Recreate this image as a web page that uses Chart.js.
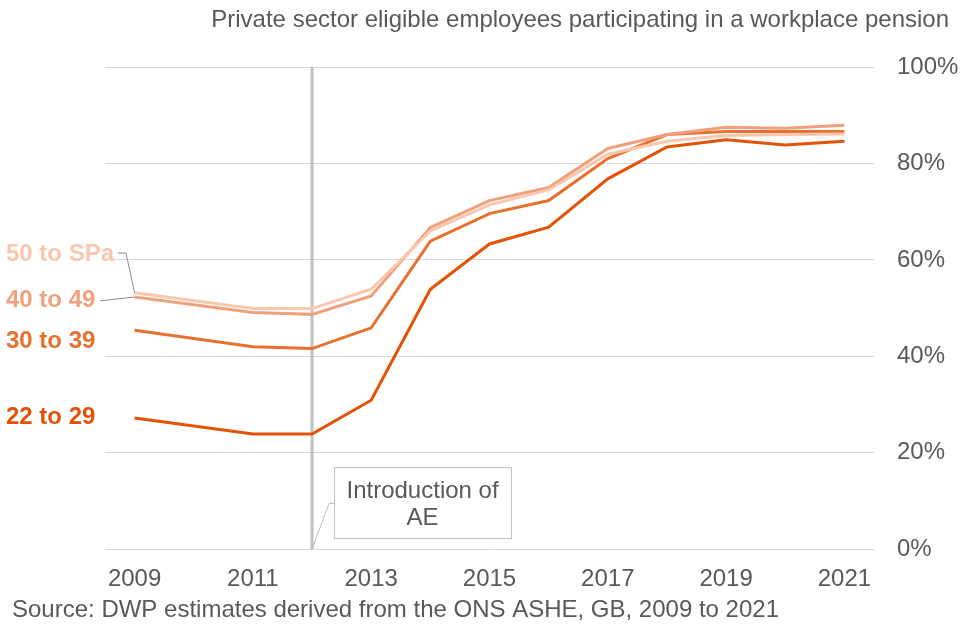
<!DOCTYPE html>
<html>
<head>
<meta charset="utf-8">
<script src="https://cdn.jsdelivr.net/npm/chart.js@4"></script>
<style>
  html, body { margin: 0; padding: 0; background: #ffffff; }
  #wrap { width: 960px; height: 640px; position: relative; }
</style>
</head>
<body>
<div id="wrap"><canvas id="c" width="960" height="640"></canvas></div>
<script>
const years = ['2009','2010','2011','2012','2013','2014','2015','2016','2017','2018','2019','2020','2021'];
const shownYears = ['2009','2011','2013','2015','2017','2019','2021'];
const yTicks = [0, 20, 40, 60, 80, 100];

const age22to29 = [27.2, null, 23.9, 23.9, 30.9, 53.9, 63.3, 66.8, 76.8, 83.4, 84.9, 83.8, 84.6];
const age30to39 = [45.4, null, 42.0, 41.6, 45.9, 63.9, 69.6, 72.3, 81.0, 86.0, 86.6, 86.6, 86.6];
const age40to49 = [52.3, null, 49.1, 48.7, 52.5, 66.7, 72.3, 75.0, 83.1, 86.0, 87.5, 87.3, 87.9];
const age50toSPa = [53.2, null, 49.9, 49.9, 53.9, 66.0, 71.4, 74.5, 81.9, 84.6, 85.8, 86.0, 86.1];

const seriesNames = ['22 to 29', '30 to 39', '40 to 49', '50 to SPa'];
const seriesColors = ['#E35205', '#E8702E', '#F0A07C', '#F8C8AE'];
// label vertical positions (in % units on the value axis)
const labelValues = [27.4, 43.2, 51.5, 61.2];

const titleText = 'Private sector eligible employees participating in a workplace pension';
const sourceText = 'Source: DWP estimates derived from the ONS ASHE, GB, 2009 to 2021';
const aeYear = '2012';
const aeText = ['Introduction of', 'AE'];

const FONT = '"Liberation Sans", Arial, sans-serif';
const GREY_TEXT = '#595959';

const decor = {
  id: 'decor',
  beforeDatasetsDraw(chart) {
    const { ctx, chartArea, scales } = chart;
    const x = scales.x.getPixelForValue(years.indexOf(aeYear));
    ctx.save();
    ctx.strokeStyle = '#BFBFBF';
    ctx.lineWidth = 3;
    ctx.beginPath();
    ctx.moveTo(x, chartArea.top);
    ctx.lineTo(x, chartArea.bottom);
    ctx.stroke();
    ctx.restore();
  },
  afterDraw(chart) {
    const { ctx, chartArea, scales } = chart;
    const xs = scales.x, ys = scales.y;
    ctx.save();
    // title
    ctx.font = '24px ' + FONT;
    ctx.fillStyle = GREY_TEXT;
    ctx.textAlign = 'right';
    ctx.textBaseline = 'middle';
    ctx.fillText(titleText, 949, 20);
    // source
    ctx.textAlign = 'left';
    ctx.fillText(sourceText, 12, 610);

    // series labels
    ctx.font = 'bold 24px ' + FONT;
    const x0 = xs.getPixelForValue(0);
    for (let i = 0; i < seriesNames.length; i++) {
      ctx.fillStyle = seriesColors[i];
      ctx.fillText(seriesNames[i], 6, ys.getPixelForValue(labelValues[i]));
    }
    // leader lines
    ctx.strokeStyle = '#8C8C8C';
    ctx.lineWidth = 1;
    const y50 = ys.getPixelForValue(labelValues[3]) - 1;
    const y50d = ys.getPixelForValue(age50toSPa[0]);
    ctx.beginPath();
    ctx.moveTo(118, y50);
    ctx.lineTo(126, y50);
    ctx.lineTo(x0, y50d);
    ctx.stroke();
    const y40 = ys.getPixelForValue(labelValues[2]);
    const y40d = ys.getPixelForValue(age40to49[0]);
    ctx.beginPath();
    ctx.moveTo(100, y40);
    ctx.lineTo(x0, y40d);
    ctx.stroke();

    // annotation box
    const xa = xs.getPixelForValue(years.indexOf(aeYear));
    const bx = xa + 22, bw = 177;
    const byTop = ys.getPixelForValue(17.0), byBot = ys.getPixelForValue(2.3);
    ctx.strokeStyle = '#BFBFBF';
    ctx.lineWidth = 1;
    ctx.strokeRect(bx + 0.5, byTop + 0.5, bw, byBot - byTop);
    ctx.beginPath();
    ctx.moveTo(xa, chartArea.bottom);
    ctx.lineTo(bx - 5, ys.getPixelForValue(9.5));
    ctx.lineTo(bx, ys.getPixelForValue(9.5));
    ctx.stroke();
    ctx.font = '24px ' + FONT;
    ctx.fillStyle = GREY_TEXT;
    ctx.textAlign = 'center';
    ctx.fillText(aeText[0], bx + bw / 2, byTop + 24);
    ctx.fillText(aeText[1], bx + bw / 2, byTop + 51);
    ctx.restore();
  }
};

const dataSets = [age22to29, age30to39, age40to49, age50toSPa];
new Chart(document.getElementById('c'), {
  type: 'line',
  data: {
    labels: years,
    datasets: dataSets.map((d, i) => ({
      label: seriesNames[i],
      data: d,
      borderColor: seriesColors[i],
      backgroundColor: seriesColors[i],
      borderWidth: 3,
      pointRadius: 0,
      tension: 0,
      spanGaps: true,
      order: 3 - i
    }))
  },
  options: {
    responsive: false,
    animation: false,
    layout: { padding: { top: 67, left: 105, right: 2, bottom: 30 } },
    plugins: { legend: { display: false }, tooltip: { enabled: false } },
    scales: {
      x: {
        type: 'category',
        offset: true,
        grid: { display: false, drawTicks: false },
        border: { display: false },
        ticks: {
          autoSkip: false,
          maxRotation: 0,
          padding: 16,
          color: GREY_TEXT,
          font: { size: 24, family: FONT },
          callback: function (v, i) { const l = years[i]; return shownYears.includes(l) ? l : ''; }
        }
      },
      y: {
        position: 'right',
        min: 0, max: 100,
        afterBuildTicks: (s) => { s.ticks = yTicks.map(v => ({ value: v })); },
        afterFit: (s) => { s.width = 84; },
        grid: { color: '#D9D9D9', lineWidth: 1, drawTicks: false },
        border: { display: false },
        ticks: {
          padding: 23,
          color: GREY_TEXT,
          font: { size: 24, family: FONT },
          callback: (v) => v + '%'
        }
      }
    }
  },
  plugins: [decor]
});
</script>
</body>
</html>
